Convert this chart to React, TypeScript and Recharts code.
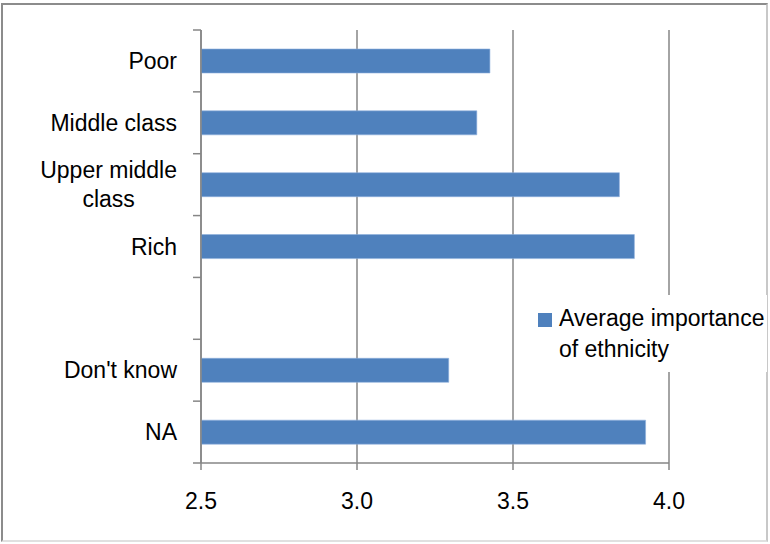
import { BarChart, Bar, XAxis, YAxis, CartesianGrid, Legend } from 'recharts'

const categories = ['Poor', 'Middle class', 'Upper middle class', 'Rich', '', "Don't know", 'NA']
const avgImportance = [3.426, 3.384, 3.841, 3.889, null, 3.294, 3.925]
const xTicks = [2.5, 3.0, 3.5, 4.0]
const seriesName = 'Average importance of ethnicity'

const data = categories.map((c, i) => ({ name: c, value: avgImportance[i] }))

const W = 770
const H = 544
const M = { top: 30, right: 101, bottom: 0, left: 0 }
const Y_W = 201
const X_H = 81
const BAND = (H - M.top - M.bottom - X_H) / categories.length
const FONT = '"Liberation Sans", Arial, sans-serif'
const FS = 23
const AXIS = '#868686'

let ctx: CanvasRenderingContext2D | null = null
function textWidth(s: string) {
  if (!ctx) ctx = document.createElement('canvas').getContext('2d')
  if (!ctx) return s.length * 11
  ctx.font = `${FS}px ${FONT}`
  return ctx.measureText(s).width
}

function wrap(label: string, max: number): string[] {
  const words = label.split(' ')
  const lines: string[] = []
  let cur = ''
  words.forEach(w => {
    const t = cur ? cur + ' ' + w : w
    if (cur && textWidth(t) > max) { lines.push(cur); cur = w } else cur = t
  })
  if (cur) lines.push(cur)
  return lines
}

// ticks sit on band boundaries (Excel style), labels centred on the band
function CategoryTick(props: any) {
  const { x, y, payload, index } = props
  const axisX = x + 8
  const lines = payload.value ? wrap(String(payload.value), 150) : []
  const blockW = Math.max(0, ...lines.map(textWidth))
  const cx = axisX - 24 - blockW / 2
  const lh = 29
  const y0 = y - ((lines.length - 1) * lh) / 2
  const last = index === categories.length - 1
  return (
    <g>
      <line x1={axisX - 8} x2={axisX} y1={y - BAND / 2} y2={y - BAND / 2} stroke={AXIS} strokeWidth={1.5} />
      {last && <line x1={axisX - 8} x2={axisX} y1={y + BAND / 2} y2={y + BAND / 2} stroke={AXIS} strokeWidth={1.5} />}
      {lines.map((l, i) => (
        <text key={i} x={cx} y={y0 + i * lh} dy="0.36em" textAnchor="middle" fontSize={FS} fill="#000" fontFamily={FONT}>
          {l}
        </text>
      ))}
    </g>
  )
}

function LegendBox() {
  return (
    <div style={{ background: '#fff', width: 232, height: 77, boxSizing: 'border-box', padding: '8px 0 0 3px', display: 'flex', fontFamily: FONT, fontSize: FS, color: '#000' }}>
      <div style={{ width: 14, height: 14, background: '#4F81BD', marginTop: 10, marginRight: 7, flexShrink: 0 }} />
      <div style={{ width: 208, lineHeight: '31px' }}>{seriesName}</div>
    </div>
  )
}

export default function App() {
  return (
    <div style={{ position: 'absolute', left: 0, top: 0, width: W, height: H, background: '#fff' }}>
      <div style={{ position: 'absolute', left: 1, top: 3, width: 767, height: 539, boxSizing: 'border-box', borderLeft: '2px solid #8c8c8c', borderTop: '2px solid #8c8c8c', borderRight: '2px solid #c8c8c8', borderBottom: '2px solid #e0e0e0' }} />
      <div style={{ position: 'absolute', left: 0, top: 0 }}>
        <BarChart width={W} height={H} data={data} layout="vertical" margin={M} barSize={24}>
          <CartesianGrid horizontal={false} stroke={AXIS} strokeWidth={1.5} />
          <XAxis
            type="number"
            domain={[2.5, 4.0]}
            ticks={xTicks}
            tickFormatter={(v: number) => v.toFixed(1)}
            height={X_H}
            tickSize={7}
            tickMargin={23}
            stroke={AXIS}
            strokeWidth={1.5}
            tick={{ fontSize: FS, fill: '#000', fontFamily: FONT }}
            allowDataOverflow
          />
          <YAxis
            type="category"
            dataKey="name"
            width={Y_W}
            interval={0}
            tickLine={false}
            stroke={AXIS}
            strokeWidth={1.5}
            tick={<CategoryTick />}
          />
          <Legend
            layout="horizontal"
            align="center"
            verticalAlign="middle"
            content={<LegendBox />}
            wrapperStyle={{ left: 535, top: 295, width: 232, height: 77 }}
          />
          <Bar dataKey="value" name={seriesName} fill="#4F81BD" stroke="#8eb0dd" strokeWidth={0.6} isAnimationActive={false} />
        </BarChart>
      </div>
    </div>
  )
}
